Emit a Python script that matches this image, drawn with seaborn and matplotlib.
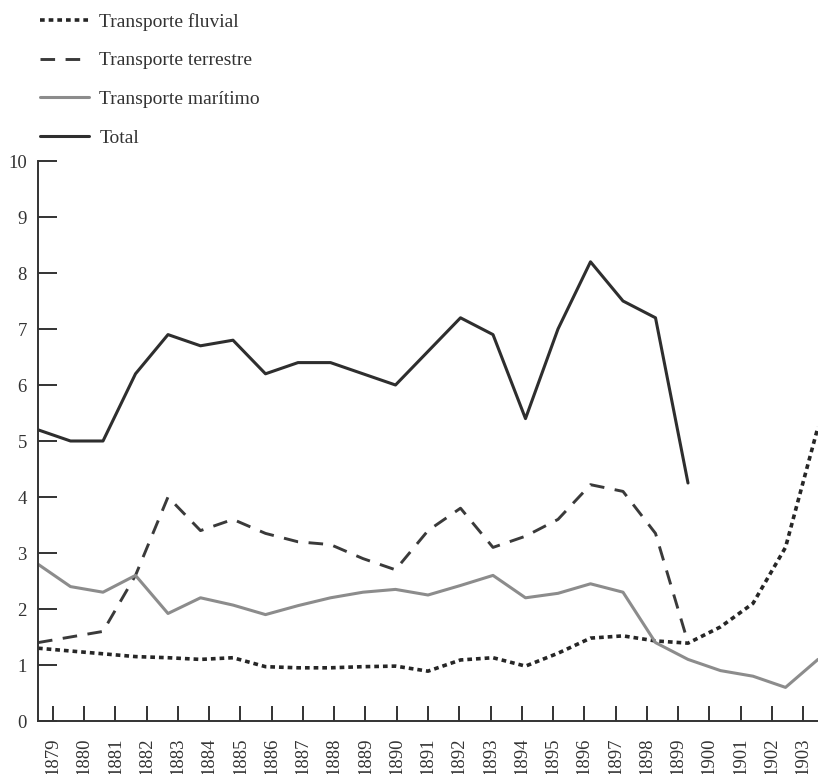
import matplotlib
matplotlib.use('Agg')
import matplotlib.pyplot as plt
import numpy as np
import seaborn as sns

# Years covered by each series
years_long = list(range(1879, 1904))
years_short = list(range(1879, 1900))

# Values
fluvial = [1.3, 1.25, 1.2, 1.15, 1.13, 1.1, 1.13, 0.97, 0.95, 0.95, 0.97, 0.98, 0.89,
           1.09, 1.13, 0.98, 1.21, 1.48, 1.52, 1.43, 1.39, 1.68, 2.1, 3.1, 5.25]
terrestre = [1.4, 1.5, 1.6, 2.6, 4.0, 3.4, 3.6, 3.35, 3.2, 3.15, 2.9, 2.7, 3.4,
             3.8, 3.1, 3.3, 3.6, 4.22, 4.1, 3.35, 1.4]
maritimo = [2.8, 2.4, 2.3, 2.6, 1.92, 2.2, 2.07, 1.9, 2.06, 2.2, 2.3, 2.35, 2.25,
            2.42, 2.6, 2.2, 2.28, 2.45, 2.3, 1.4, 1.1, 0.9, 0.8, 0.6, 1.1]
total = [5.2, 5.0, 5.0, 6.2, 6.9, 6.7, 6.8, 6.2, 6.4, 6.4, 6.2, 6.0, 6.6,
         7.2, 6.9, 5.4, 7.0, 8.2, 7.5, 7.2, 4.25]

labels = ['Transporte fluvial', 'Transporte terrestre', 'Transporte marítimo', 'Total']
y_ticks = list(range(0, 11))

sns.set_style('ticks')
plt.rcParams['font.family'] = ['Liberation Serif', 'DejaVu Serif']
plt.rcParams['text.color'] = '#333333'

fig = plt.figure(figsize=(8.18, 7.74), dpi=100)
ax = fig.add_axes([38 / 818, 53 / 774, 780 / 818, 560 / 774])

sns.lineplot(x=years_long, y=fluvial, ax=ax, color='#262626', linewidth=2.6,
             linestyle=(0, (1.3, 1.1)), label=labels[0])
sns.lineplot(x=years_short, y=terrestre, ax=ax, color='#3a3a3a', linewidth=2.1,
             linestyle=(0, (5.0, 3.6)), label=labels[1])
sns.lineplot(x=years_long, y=maritimo, ax=ax, color='#8c8c8c', linewidth=2.2,
             label=labels[2])
sns.lineplot(x=years_short, y=total, ax=ax, color='#2e2e2e', linewidth=2.2,
             label=labels[3])

handles = ax.get_lines()[:4]
ax.get_legend().remove()
fig.legend(handles, labels, loc='upper left', bbox_to_anchor=(40 / 818, 1 - 13 / 774),
           frameon=False, fontsize=14, handlelength=2.5, handletextpad=0.55,
           labelspacing=1.08, borderpad=0, borderaxespad=0)

ax.set_xlim(1879, 1903)
ax.set_ylim(0, 10)
# tick marks in the original sit slightly off the data vertices
ax.set_xticks(np.linspace(1879.46, 1902.54, len(years_long)))
ax.set_xticklabels([str(y) for y in years_long], rotation=90, fontsize=13.5)
ax.set_yticks(y_ticks)
ax.set_yticklabels([str(v) for v in y_ticks], fontsize=13.5)

ax.tick_params(axis='y', direction='in', length=14, width=1.4, pad=8,
               colors='#333333', labelcolor='#333333')
ax.tick_params(axis='x', direction='in', length=10.5, width=1.4, pad=12,
               colors='#333333', labelcolor='#333333')

sns.despine(ax=ax)
for side in ['left', 'bottom']:
    ax.spines[side].set_linewidth(1.4)
    ax.spines[side].set_color('#333333')
ax.set_xlabel('')
ax.set_ylabel('')

fig.savefig('out.png', dpi=100)
